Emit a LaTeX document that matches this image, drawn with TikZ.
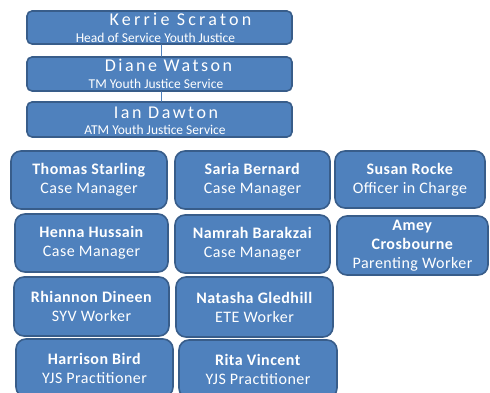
\documentclass[tikz,border=0pt]{standalone}
\usepackage{fontspec}
\setmainfont{Carlito}
\newfontfamily\widename[LetterSpace=18]{Carlito}
\newfontfamily\spacename[LetterSpace=14]{Carlito}
\newfontfamily\stafffont[LetterSpace=3]{Carlito}
\definecolor{boxfill}{HTML}{4F81BD}
\definecolor{boxedge}{HTML}{385D8A}

\begin{document}
\begin{tikzpicture}[line cap=round,line join=round,x=1pt,y=-1pt,
    headbox/.style={draw=boxedge,line width=1.6pt,fill=boxfill,rounded corners=5pt,minimum width=265pt,inner sep=0pt},
    staffbox/.style={draw=boxedge,line width=1.6pt,fill=boxfill,rounded corners=10pt,inner sep=0pt,text=white,align=center,font=\stafffont\fontsize{16}{19}\selectfont},
    headname/.style={text=white,anchor=base,inner sep=0pt,font=\fontsize{18}{20}\selectfont},
    headrole/.style={text=white,anchor=base,inner sep=0pt,font=\fontsize{13.5}{15}\selectfont},
    link/.style={draw=boxfill,line width=0.9pt}]
        \useasboundingbox (0,0) rectangle (490,393);
        % management line
        \node [headbox,minimum height=33pt] (kerrie) at (159.5,27.5) {};
        \node [headbox,minimum height=34pt] (diane) at (159.5,74) {};
        \node [headbox,minimum height=35pt] (ian) at (159.5,119.5) {};
        \draw [link] ([xshift=1.5pt]kerrie.south) -- ([xshift=1.5pt]diane.north);
        \draw [link] ([xshift=1.5pt]diane.south) -- ([xshift=1.5pt]ian.north);
        \node [headname] (kerriename) at (180.5,26) {\widename Kerrie Scraton};
        \node [headrole] (kerrierole) at (155.5,43) {Head of Service Youth Justice};
        \node [headname] (dianename) at (168.5,72) {\spacename Diane Watson};
        \node [headrole] (dianerole) at (156,89) {TM Youth Justice Service};
        \node [headname] (ianname) at (166,119) {\spacename Ian Dawton};
        \node [headrole] (ianrole) at (155,135) {ATM Youth Justice Service};
        % team
        \node [staffbox,minimum width=156pt,minimum height=58pt] (thomas) at (89,180) {\textbf{Thomas Starling}\\Case Manager};
        \node [staffbox,minimum width=155pt,minimum height=58pt] (saria) at (252.5,180) {\textbf{Saria Bernard}\\Case Manager};
        \node [staffbox,minimum width=150pt,minimum height=57pt] (susan) at (410,179.5) {\textbf{Susan Rocke}\\Officer in Charge};
        \node [staffbox,minimum width=153pt,minimum height=58pt] (henna) at (91.5,243) {\textbf{Henna Hussain}\\Case Manager};
        \node [staffbox,minimum width=155pt,minimum height=58pt] (namrah) at (252.5,244) {\textbf{Namrah Barakzai}\\Case Manager};
        \node [staffbox,minimum width=151pt,minimum height=59pt] (amey) at (412.5,245.5) {\textbf{Amey}\\\textbf{Crosbourne}\\Parenting Worker};
        \node [staffbox,minimum width=155pt,minimum height=59pt] (rhiannon) at (91.5,306.5) {\textbf{Rhiannon Dineen}\\SYV Worker};
        \node [staffbox,minimum width=157pt,minimum height=60pt] (natasha) at (254.5,307) {\textbf{Natasha Gledhill}\\ETE Worker};
        \node [staffbox,minimum width=157pt,minimum height=58pt] (harrison) at (94.5,368) {\textbf{Harrison Bird}\\YJS Practitioner};
        \node [staffbox,minimum width=158pt,minimum height=58pt] (rita) at (258,369) {\textbf{Rita Vincent}\\YJS Practitioner};
\end{tikzpicture}
\end{document}
